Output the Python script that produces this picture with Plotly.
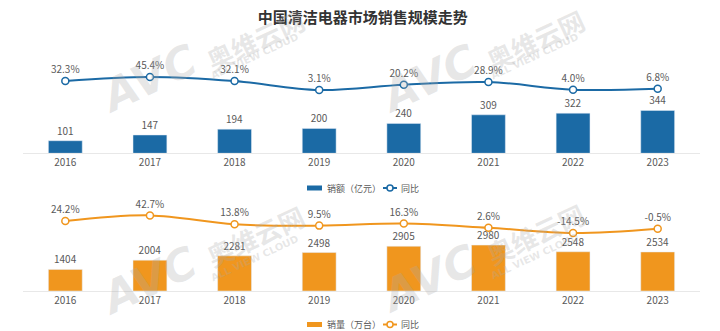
import plotly.graph_objects as go

# Data
years = ["2016", "2017", "2018", "2019", "2020", "2021", "2022", "2023"]
sales_value = [101, 147, 194, 200, 240, 309, 322, 344]          # 销额（亿元）
sales_value_yoy = [32.3, 45.4, 32.1, 3.1, 20.2, 28.9, 4.0, 6.8]  # 同比 %
sales_volume = [1404, 2004, 2281, 2498, 2905, 2980, 2548, 2534]  # 销量（万台）
sales_volume_yoy = [24.2, 42.7, 13.8, 9.5, 16.3, 2.6, -14.5, -0.5]

BLUE = "#1b6aa5"
ORANGE = "#f0961e"
TXT = "#595959"
FONT = "Noto Sans CJK SC"
W, H = 720, 331
ML, MR = 23, 20
PW = W - ML - MR

fig = go.Figure()

# Top panel: sales value bars + YoY line
fig.add_trace(go.Bar(
    x=years, y=sales_value, name="销额（亿元）", marker_color=BLUE, width=0.4,
    text=[str(v) for v in sales_value], textposition="outside", cliponaxis=False,
    textfont=dict(size=10, color=TXT, family=FONT),
    xaxis="x", yaxis="y",
))
fig.add_trace(go.Scatter(
    x=years, y=sales_value_yoy, name="同比", mode="lines+markers+text",
    line=dict(color=BLUE, width=2, shape="spline"),
    marker=dict(size=7, color="white", line=dict(color=BLUE, width=1.5)),
    text=[f"{v:.1f}%" for v in sales_value_yoy], textposition="top center",
    textfont=dict(size=10, color=TXT, family=FONT), cliponaxis=False,
    xaxis="x", yaxis="y2",
))

# Bottom panel: sales volume bars + YoY line
fig.add_trace(go.Bar(
    x=years, y=sales_volume, name="销量（万台）", marker_color=ORANGE, width=0.4,
    text=[str(v) for v in sales_volume], textposition="outside", cliponaxis=False,
    textfont=dict(size=10, color=TXT, family=FONT),
    xaxis="x2", yaxis="y3",
))
fig.add_trace(go.Scatter(
    x=years, y=sales_volume_yoy, name="同比", mode="lines+markers+text",
    line=dict(color=ORANGE, width=2, shape="spline"),
    marker=dict(size=7, color="white", line=dict(color=ORANGE, width=1.5)),
    text=[f"{v:.1f}%" for v in sales_volume_yoy], textposition="top center",
    textfont=dict(size=10, color=TXT, family=FONT), cliponaxis=False,
    xaxis="x2", yaxis="y4",
))

xcommon = dict(
    type="category", showgrid=False, zeroline=False, showline=True,
    linecolor="#e8e8e8", linewidth=1, ticks="",
    tickfont=dict(size=10, color=TXT, family=FONT),
)
hidden = dict(visible=False, showgrid=False, zeroline=False)

fig.update_layout(
    width=W, height=H,
    margin=dict(l=ML, r=MR, t=0, b=0, autoexpand=False),
    paper_bgcolor="white", plot_bgcolor="white",
    showlegend=False,
    title=dict(
        text="<b>中国清洁电器市场销售规模走势</b>",
        x=0.504, xanchor="center", y=1 - 18 / H, yanchor="middle",
        yref="container", font=dict(size=15, color="#333333", family=FONT),
    ),
    xaxis=dict(domain=[0, 1], anchor="y", **xcommon),
    yaxis=dict(domain=[0.5369, 0.9094], range=[0, 990], **hidden),
    yaxis2=dict(overlaying="y", range=[-203.1, 198.5], **hidden),
    xaxis2=dict(domain=[0, 1], anchor="y3", **xcommon),
    yaxis3=dict(domain=[0.12085, 0.4864], range=[0, 7857], **hidden),
    yaxis4=dict(overlaying="y3", range=[-203.0, 190.3], **hidden),
)


def px(x, y):
    """Pixel position -> paper coordinates (paper spans the plot area)."""
    return (x - ML) / PW, 1 - y / H


# Compact legends: [bar swatch] label  -o- 同比
shapes = []
for ly, color, label in [(188, BLUE, "销额（亿元）"), (324.5, ORANGE, "销量（万台）")]:
    x0, y0 = px(307, ly - 2.5)
    x1, y1 = px(322, ly + 2.5)
    shapes.append(dict(type="rect", xref="paper", yref="paper", x0=x0, x1=x1,
                       y0=y1, y1=y0, fillcolor=color, line=dict(width=0)))
    tx, ty = px(325, ly)
    fig.add_annotation(x=tx, y=ty, xref="paper", yref="paper",
                       text=label, showarrow=False, xanchor="left", yanchor="middle",
                       font=dict(size=9, color=TXT, family=FONT))
    lx0, lyy = px(383, ly)
    lx1, _ = px(397, ly)
    shapes.append(dict(type="line", xref="paper", yref="paper", x0=lx0, x1=lx1,
                       y0=lyy, y1=lyy, line=dict(color=color, width=2)))
    cx0, cy0 = px(387, ly - 3)
    cx1, cy1 = px(393, ly + 3)
    shapes.append(dict(type="circle", xref="paper", yref="paper", x0=cx0, x1=cx1,
                       y0=cy1, y1=cy0, fillcolor="white", line=dict(color=color, width=1.5)))
    tx, ty = px(399, ly)
    fig.add_annotation(x=tx, y=ty, xref="paper", yref="paper",
                       text="同比", showarrow=False, xanchor="left", yanchor="middle",
                       font=dict(size=9, color=TXT, family=FONT))
fig.update_layout(shapes=shapes)

# Faint brand watermark, repeated in a 2x2 pattern
wm = "rgba(170,170,170,0.28)"
for ox, oy in [(0, 0), (280, 0), (0, 202), (280, 200)]:
    cn_y = 39 if oy == 0 else 33
    for text, cx, cy, size, fam in [
        ("<b><i>AVC</i></b>", 148, 78, 44, "DejaVu Sans"),
        ("<b>奥维云网</b>", 255, cn_y, 26, FONT),
        ("<b>ALL VIEW CLOUD</b>", 254, 56, 10, "DejaVu Sans"),
    ]:
        ax, ay = px(cx + ox, cy + oy)
        fig.add_annotation(x=ax, y=ay, xref="paper", yref="paper", text=text,
                           showarrow=False, textangle=-25, xanchor="center",
                           yanchor="middle", font=dict(size=size, color=wm, family=fam))

fig.write_html("out.html")
